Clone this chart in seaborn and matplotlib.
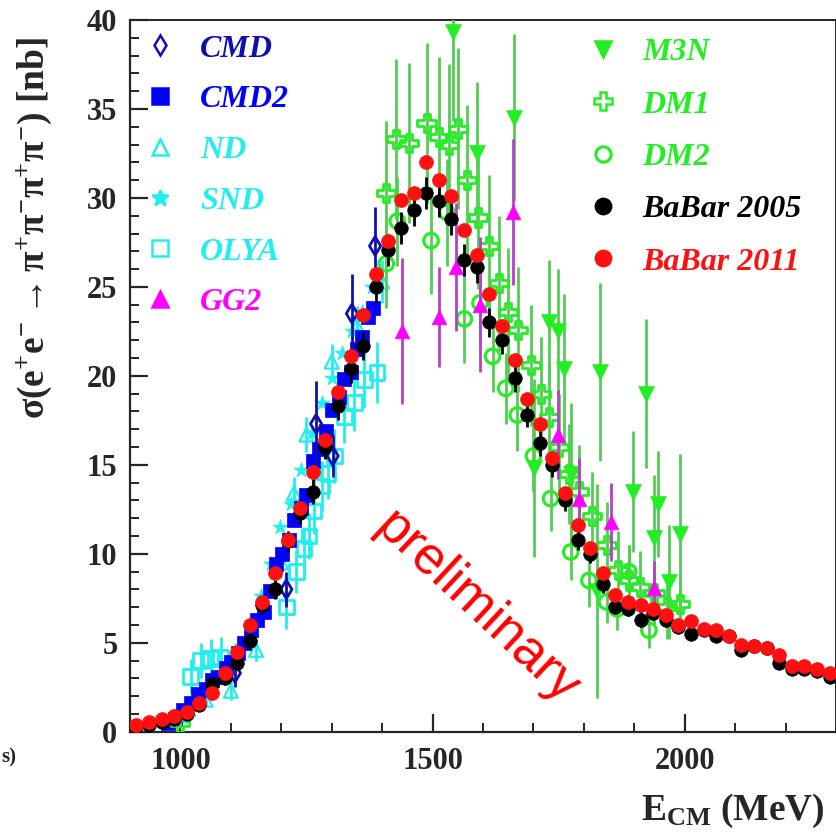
import numpy as np
import pandas as pd
import matplotlib
matplotlib.use("Agg")
import matplotlib.pyplot as plt
import seaborn as sns
from matplotlib.lines import Line2D
from matplotlib.ticker import MultipleLocator

# ---------------- data ----------------
babar_x = [912.5, 937.5, 962.5, 987.5, 1012.5, 1037.5, 1062.5, 1087.5, 1112.5, 1137.5,
           1162.5, 1187.5, 1212.5, 1237.5, 1262.5, 1287.5, 1312.5, 1337.5, 1362.5, 1387.5,
           1412.5, 1437.5, 1462.5, 1487.5, 1512.5, 1537.5, 1562.5, 1587.5, 1612.5, 1637.5,
           1662.5, 1687.5, 1712.5, 1737.5, 1762.5, 1787.5, 1812.5, 1837.5, 1862.5, 1887.5,
           1912.5, 1937.5, 1962.5, 1987.5, 2012.5, 2037.5, 2062.5, 2087.5, 2112.5, 2137.5,
           2162.5, 2187.5, 2212.5, 2237.5, 2262.5, 2287.5]
babar11_y = [0.38, 0.55, 0.7, 0.9, 1.1, 1.6, 2.2, 3.3, 4.5, 6.0,
             7.3, 8.9, 10.8, 12.6, 14.6, 16.4, 19.1, 21.1, 23.4, 25.7,
             27.6, 29.9, 30.3, 32.0, 31.0, 30.1, 28.2, 26.8, 24.6, 22.8,
             20.9, 18.7, 17.3, 15.4, 13.4, 11.6, 10.3, 8.9, 7.7, 7.3,
             7.1, 6.9, 6.55, 6.0, 6.2, 5.75, 5.7, 5.4, 4.9, 4.8,
             4.7, 4.3, 3.7, 3.7, 3.5, 3.3]
babar05_y = [0.25, 0.35, 0.55, 0.7, 1.0, 1.5, 2.7, 3.0, 3.85, 5.1,
             7.1, 8.0, 10.7, 12.3, 13.5, 16.0, 18.3, 20.4, 21.7, 25.0,
             27.1, 28.3, 29.3, 30.3, 29.8, 28.8, 26.5, 26.1, 23.0, 22.0,
             19.9, 17.8, 16.2, 15.0, 13.0, 10.8, 10.0, 8.3, 7.0, 6.9,
             6.3, 6.65, 6.3, 5.9, 5.5, 5.7, 5.4, 5.4, 4.6, 4.8,
             4.7, 3.85, 3.5, 3.5, 3.4, 3.1]
babar05_err = [0.1, 0.1, 0.15, 0.15, 0.2, 0.25, 0.3, 0.35, 0.4, 0.45,
               0.5, 0.55, 0.6, 0.6, 0.7, 0.7, 0.8, 0.8, 0.8, 0.9,
               0.9, 0.9, 0.9, 0.9, 0.9, 0.9, 0.9, 0.9, 0.8, 0.8,
               0.8, 0.7, 0.7, 0.7, 0.6, 0.6, 0.5, 0.5, 0.4, 0.4,
               0.4, 0.4, 0.4, 0.35, 0.35, 0.3, 0.3, 0.3, 0.3, 0.3,
               0.3, 0.3, 0.25, 0.25, 0.25, 0.25]

cmd_x = [1108, 1210, 1269, 1302, 1340, 1386]
cmd_y = [3.3, 8.0, 17.3, 15.5, 23.5, 27.3]
cmd_err = [0.8, 1.0, 2.4, 1.2, 2.2, 2.2]

cmd2_x = [975, 990, 1005, 1020, 1035, 1050, 1062, 1075, 1090, 1100, 1115, 1127, 1140,
          1152, 1165, 1178, 1190, 1202, 1215, 1225, 1240, 1250, 1263, 1275, 1288, 1300,
          1315, 1325, 1338, 1350, 1360, 1372, 1382]
cmd2_y = [0.5, 0.7, 1.2, 1.6, 2.1, 2.4, 2.9, 3.1, 3.6, 3.9, 4.4, 5.0, 5.7,
          6.3, 6.7, 7.9, 9.4, 10.0, 10.8, 11.9, 12.6, 13.3, 15.2, 15.9, 16.9, 18.1,
          18.8, 19.8, 20.2, 21.5, 22.2, 23.3, 23.8]

nd_x = [1000, 1050, 1100, 1150, 1200, 1225, 1250, 1300, 1350, 1400]
nd_y = [0.9, 1.8, 2.3, 4.6, 9.5, 13.4, 16.7, 20.8, 22.8, 25.3]
nd_err = [0.3, 0.4, 0.5, 0.6, 0.8, 0.9, 1.0, 1.0, 1.1, 1.2]

snd_x = [980, 1020, 1040, 1060, 1080, 1100, 1120, 1140, 1160, 1180,
         1197, 1220, 1240, 1260, 1280, 1300, 1320, 1340, 1360, 1380]
snd_y = [0.7, 1.2, 1.8, 2.5, 3.2, 4.0, 4.8, 6.0, 7.6, 9.4,
         11.5, 12.8, 14.7, 16.8, 18.5, 19.9, 21.3, 22.5, 23.6, 25.0]

olya_x = [1020, 1040, 1060, 1080, 1210, 1230, 1245, 1255, 1265, 1280, 1293, 1305, 1325,
          1345, 1365, 1390]
olya_y = [3.1, 4.0, 4.1, 4.2, 7.0, 9.0, 10.3, 11.0, 12.4, 13.8, 14.5, 15.5, 17.7,
          18.5, 19.8, 20.2]
olya_err = [1.0, 1.0, 1.1, 1.1, 1.2, 1.2, 1.2, 1.3, 1.3, 1.4, 1.4, 1.5, 1.5,
            1.6, 1.6, 1.7]

gg2_x = [1440, 1513, 1546, 1594, 1659, 1749, 1790, 1853, 1939]
gg2_y = [22.5, 23.3, 26.1, 24.0, 29.2, 16.7, 13.1, 11.8, 8.1]
gg2_err = [4.1, 2.8, 3.6, 3.8, 4.1, 2.5, 2.3, 2.2, 1.5]

m3n_x = [1541, 1589, 1662, 1701, 1731, 1748, 1760, 1774, 1827, 1833, 1897, 1924,
         1940, 1948, 1969, 1990]
m3n_y = [39.3, 32.5, 34.5, 14.8, 23.0, 22.5, 20.4, 14.5, 7.9, 20.2, 13.5, 19.0,
         10.9, 12.8, 8.4, 11.1]
m3n_err = [5.0, 4.0, 4.7, 5.0, 3.5, 3.5, 4.2, 4.0, 6.0, 5.0, 3.4, 4.2,
           3.5, 3.0, 3.2, 4.5]

dm1_x = [1000, 1408, 1428, 1454, 1488, 1512, 1532, 1551, 1569, 1590, 1612, 1632, 1650,
         1670, 1695, 1715, 1731, 1750, 1770, 1790, 1817, 1845, 1868, 1890, 1912,
         1940, 1965, 1990]
dm1_y = [0.5, 30.3, 33.3, 33.1, 34.2, 33.4, 33.0, 33.9, 31.0, 28.9, 27.3, 25.2, 23.6,
         22.6, 20.6, 19.0, 17.7, 16.0, 14.5, 13.5, 12.1, 10.5, 9.1, 8.5, 8.15,
         7.8, 7.0, 7.2]
dm1_err = [0.3, 4.0, 4.5, 4.5, 4.5, 4.5, 4.5, 4.5, 4.2, 4.0, 4.0, 3.8, 3.6,
           3.5, 3.4, 3.2, 3.0, 3.0, 2.8, 2.6, 2.5, 2.4, 2.2, 2.0, 2.0,
           1.8, 1.8, 1.6]

dm2_x = [1408, 1430, 1497, 1528, 1563, 1594, 1619, 1645, 1668, 1700, 1734, 1774,
         1810, 1845, 1866, 1889, 1929]
dm2_y = [26.3, 28.7, 27.6, 29.2, 23.2, 24.1, 21.1, 19.3, 17.8, 15.5, 13.1, 10.1,
         8.5, 7.3, 6.9, 9.0, 5.7]
dm2_err = [2.5, 2.5, 3.0, 3.0, 2.5, 2.5, 2.0, 2.0, 2.0, 2.0, 1.8, 1.6,
           1.5, 1.2, 1.2, 1.5, 1.0]

x_ticks = [1000, 1500, 2000]
y_ticks = [0, 5, 10, 15, 20, 25, 30, 35, 40]

# ---------------- style ----------------
sns.set_theme(style="ticks")
plt.rcParams.update({
    "font.family": ["Liberation Serif", "DejaVu Serif"],
    "font.weight": "bold",
    "mathtext.fontset": "custom",
    "mathtext.rm": "Liberation Serif:bold",
    "mathtext.it": "Liberation Serif:italic:bold",
    "mathtext.bf": "Liberation Serif:bold",
    "mathtext.fallback": "stix",
    "axes.linewidth": 1.6,
})

BLUE_D = "#1010b0"
BLUE = "#0000ff"
CYAN = "#22eeee"
MAG = "#ff00ff"
MAG_E = "#b840c8"
GREEN = "#22ee22"
GREEN_E = "#55cc55"
BLACK = "#000000"
RED = "#ff1010"

fig = plt.figure(figsize=(8.37, 8.34), dpi=100)
ax = fig.add_axes([130 / 837, 1 - 731.7 / 834, (836 - 130) / 837, (731.7 - 20) / 834])


def draw(x, y, err, marker, color, ecolor, size, filled, lw, z):
    if err is not None:
        ax.errorbar(x, y, yerr=err, fmt="none", ecolor=ecolor, elinewidth=2.0,
                    capsize=0, zorder=z)
    df = pd.DataFrame({"x": x, "y": y})
    if filled:
        sns.scatterplot(data=df, x="x", y="y", ax=ax, marker=marker, s=size,
                        color=color, edgecolor=color, linewidth=lw, zorder=z + 0.1,
                        legend=False)
    else:
        sns.scatterplot(data=df, x="x", y="y", ax=ax, marker=marker, s=size,
                        facecolor="none", edgecolor=color, linewidth=lw,
                        zorder=z + 0.1, legend=False)


draw(olya_x, olya_y, olya_err, "s", CYAN, CYAN, 110, False, 2.0, 2)
draw(nd_x, nd_y, nd_err, "^", CYAN, CYAN, 100, False, 1.6, 2)
draw(snd_x, snd_y, None, "*", CYAN, CYAN, 130, True, 0.5, 2)
draw(cmd2_x, cmd2_y, None, "s", BLUE, BLUE, 95, True, 0.5, 3)
draw(cmd_x, cmd_y, cmd_err, "d", BLUE_D, BLUE_D, 90, False, 2.0, 3.5)
draw(dm1_x, dm1_y, dm1_err, "P", GREEN, GREEN_E, 170, False, 2.0, 4)
draw(dm2_x, dm2_y, dm2_err, "o", GREEN, GREEN_E, 110, False, 2.2, 4)
draw(m3n_x, m3n_y, m3n_err, "v", GREEN, GREEN_E, 130, True, 0.5, 4)
draw(gg2_x, gg2_y, gg2_err, "^", MAG, MAG_E, 110, True, 0.5, 5)
draw(babar_x, babar05_y, babar05_err, "o", BLACK, BLACK, 95, True, 0.5, 6)
draw(babar_x, babar11_y, None, "o", RED, RED, 100, True, 0.5, 7)

# ---------------- axes ----------------
ax.set_xlim(900, 2300)
ax.set_ylim(0, 40)
ax.set_xticks(x_ticks)
ax.set_yticks(y_ticks)
ax.xaxis.set_minor_locator(MultipleLocator(100))
ax.yaxis.set_minor_locator(MultipleLocator(1))
ax.tick_params(which="major", direction="in", length=13, width=1.6,
               labelsize=22, pad=9, top=False, right=False)
ax.tick_params(axis="x", which="major", pad=11)
ax.tick_params(which="minor", direction="in", length=6.5, width=1.4,
               top=False, right=False)
for lab in ax.get_xticklabels() + ax.get_yticklabels():
    lab.set_fontweight("bold")
for s in ["top", "right"]:
    ax.spines[s].set_linewidth(1.4)

ax.set_ylabel(r"$\mathrm{\sigma(e^{+}e^{-} \rightarrow \pi^{+}\pi^{-}\pi^{+}\pi^{-})}$ [nb]",
              fontsize=27, fontweight="bold")
ax.yaxis.set_label_coords(-0.108, 0.708)
ax.set_xlabel(r"$\mathrm{E_{CM}}$ (MeV)", fontsize=27, fontweight="bold")
ax.xaxis.set_label_coords(0.854, -0.084)

# ---------------- legends ----------------
def proxy(marker, color, filled, ms, mew=1.8):
    return Line2D([], [], linestyle="none", marker=marker, markersize=ms,
                  markerfacecolor=color if filled else "none",
                  markeredgecolor=color, markeredgewidth=mew)


left_items = [("CMD", proxy("d", BLUE_D, False, 10), BLUE_D),
              ("CMD2", proxy("s", BLUE, True, 11), BLUE),
              ("ND", proxy("^", CYAN, False, 11), CYAN),
              ("SND", proxy("*", CYAN, True, 12), CYAN),
              ("OLYA", proxy("s", CYAN, False, 12), CYAN),
              ("GG2", proxy("^", MAG, True, 11), MAG)]
right_items = [("M3N", proxy("v", GREEN, True, 12), GREEN),
               ("DM1", proxy("P", GREEN, False, 13), GREEN),
               ("DM2", proxy("o", GREEN, False, 11, 2.2), GREEN),
               ("BaBar 2005", proxy("o", BLACK, True, 11), BLACK),
               ("BaBar 2011", proxy("o", RED, True, 11), RED)]

leg_font = {"family": "Liberation Serif", "weight": "bold", "style": "italic", "size": 23}


def make_legend(items, anchor, spacing):
    leg = ax.legend([h for _, h, _ in items], [t for t, _, _ in items],
                    loc="upper left", bbox_to_anchor=anchor, frameon=False,
                    prop=leg_font, handlelength=1.0, handletextpad=0.75,
                    labelspacing=spacing, borderpad=0, borderaxespad=0)
    for txt, (_, _, c) in zip(leg.get_texts(), items):
        txt.set_color(c)
    return leg


leg1 = make_legend(left_items, (0.02, 0.980), 0.67)
ax.add_artist(leg1)
make_legend(right_items, (0.647, 0.975), 0.72)

# ---------------- annotations ----------------
ax.text(1588, 6.95, "preliminary", color="red", fontsize=38,
        family="Liberation Sans", fontweight="normal", rotation=-43,
        ha="center", va="center", rotation_mode="anchor", zorder=8)
fig.text(0.002, 1 - 757 / 834, "s)", fontsize=15, fontweight="bold",
         ha="left", va="center")

fig.savefig("out.png", dpi=100)
